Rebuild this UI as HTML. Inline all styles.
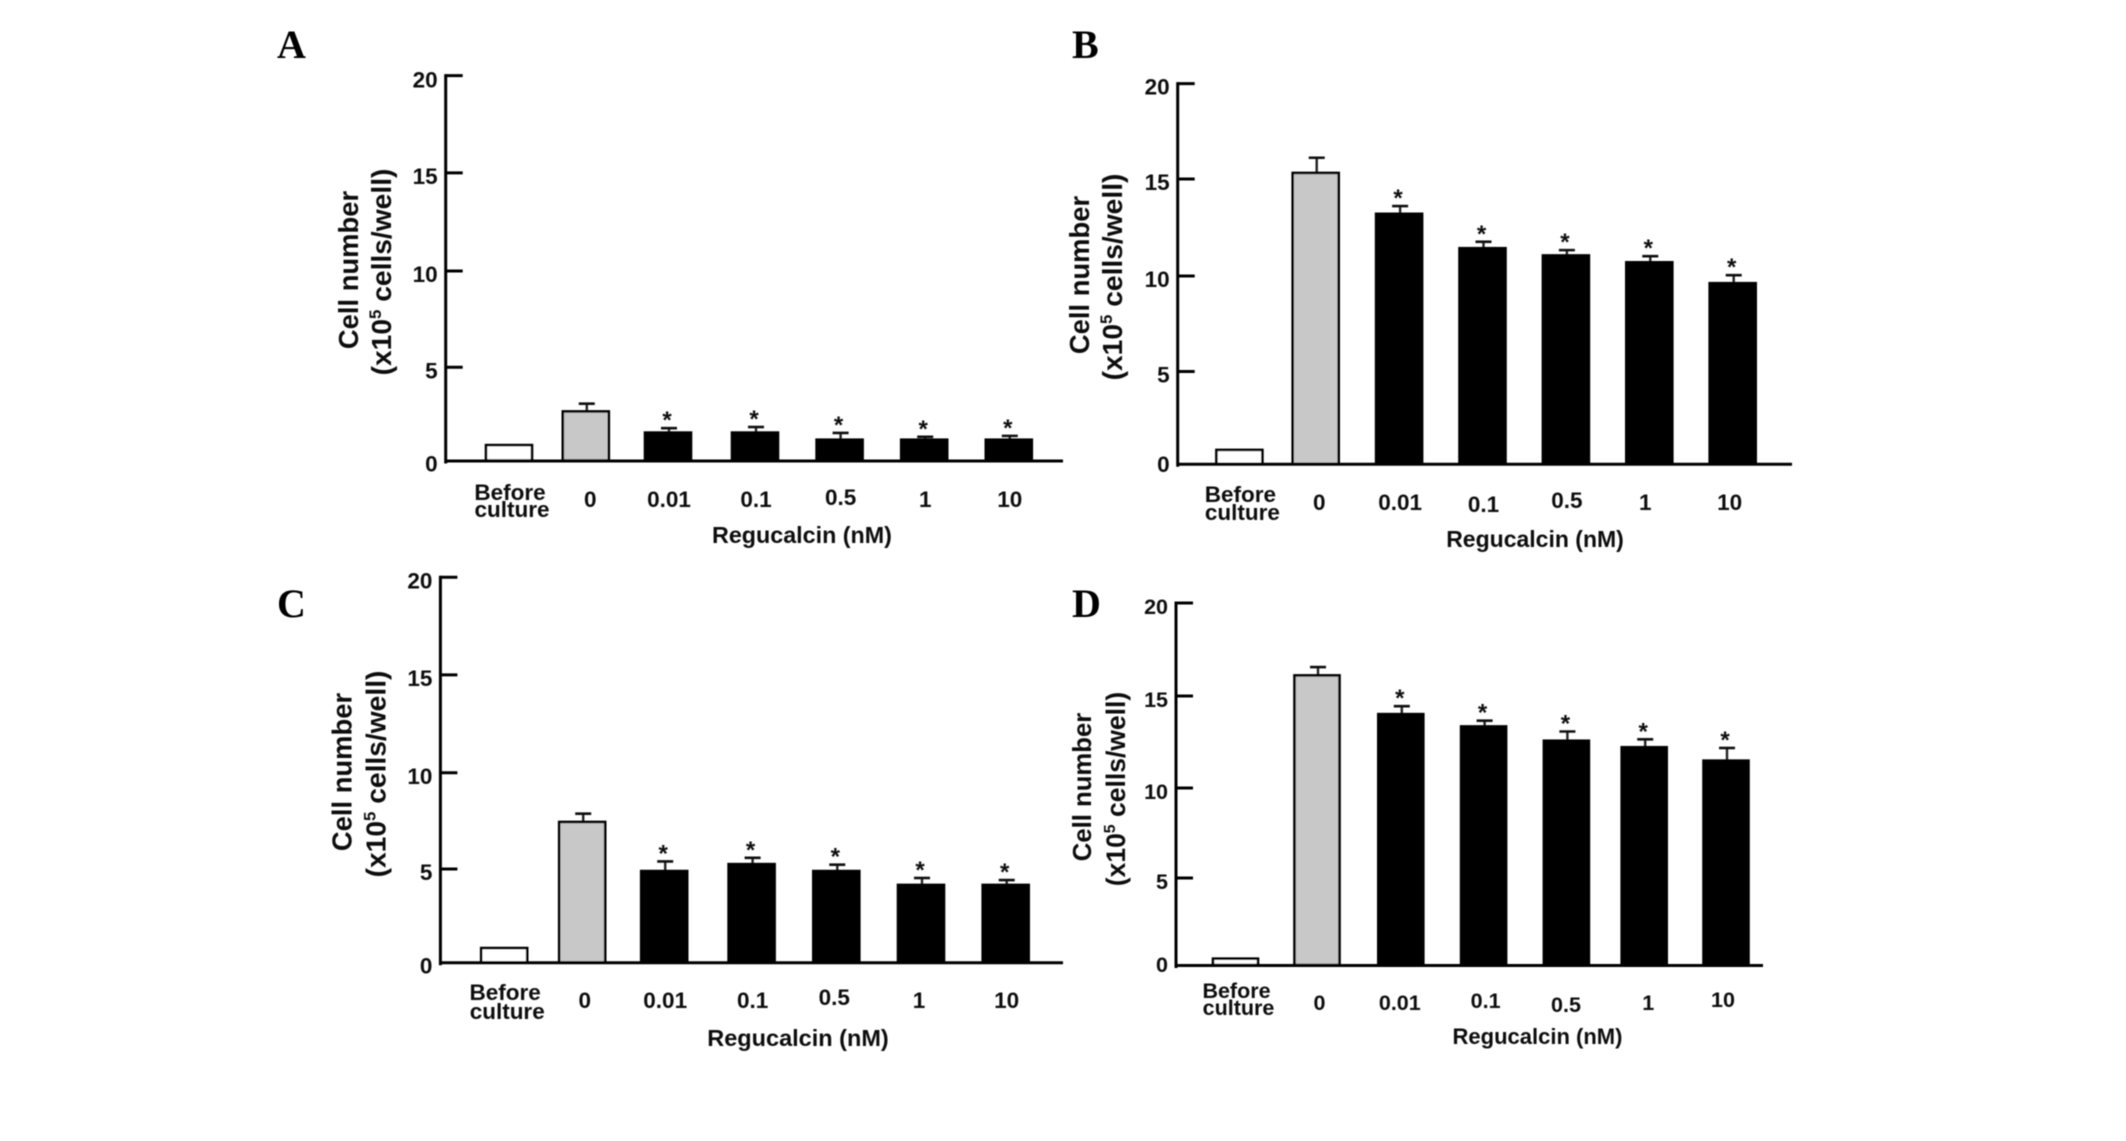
<!DOCTYPE html>
<html lang="en">
<head>
<meta charset="utf-8">
<title>Cell number by Regucalcin concentration</title>
<style>
html,body{margin:0;padding:0;background:#fff;width:2126px;height:1141px;overflow:hidden}
svg{display:block}
text{font-family:"Liberation Sans",Arial,sans-serif;fill:#111}
.letter{font-family:"Liberation Serif","Times New Roman",serif;font-weight:bold;font-size:40px;fill:#000}
</style>
</head>
<body>
<svg id="figure" xmlns="http://www.w3.org/2000/svg" width="2126" height="1141" viewBox="0 0 2126 1141">
  <defs>
    <filter id="soft" filterUnits="userSpaceOnUse" x="0" y="0" width="2126" height="1141">
      <feGaussianBlur stdDeviation="0.6"/>
    </filter>
  </defs>
  <rect x="0" y="0" width="2126" height="1141" fill="#fff"/>
  <g id="root" filter="url(#soft)"></g>
</svg>
<script>
const categories = ['Before culture', '0', '0.01', '0.1', '0.5', '1', '10'];
const tickValues = [0, 5, 10, 15, 20];
const significant = [false, false, true, true, true, true, true];

const valuesA = [0.8, 2.55, 1.45, 1.45, 1.08, 1.08, 1.08];
const errorsA = [0, 0.4, 0.23, 0.29, 0.35, 0.15, 0.2];

const valuesB = [0.73, 15.3, 13.15, 11.34, 10.96, 10.6, 9.5];
const errorsB = [0, 0.8, 0.41, 0.34, 0.28, 0.32, 0.42];

const valuesC = [0.74, 7.29, 4.74, 5.1, 4.74, 4.02, 4.02];
const errorsC = [0, 0.43, 0.5, 0.33, 0.33, 0.36, 0.25];

const valuesD = [0.35, 16.0, 13.86, 13.18, 12.39, 12.03, 11.29];
const errorsD = [0, 0.46, 0.44, 0.32, 0.51, 0.44, 0.7];

const panels = [
  {key:'a', letter:'A', values:valuesA, errors:errorsA, letterX:277, letterY:58,
   axisX:445.7, y0:460.5, y20:75.6, axisEnd:1063, firstX:509, secondX:585.8, step:84.6, barW:46,
   barNudge:[0,0,-2.4,0,0,0,0], labelShift:[0,3.5,0,0,0,0,0], tickNudge:[0,3,3,1,0], tickLabelNudge:[0,0,0,0,1],
   labelFont:22.5, labelBase:507, beforeBase:500, cultureBase:517, labelNudge:[0,0,0,0,-2,0,0],
   xTitleX:802, xTitleY:543, xTitleFont:23.3, titleFont:28.2, title1X:358, title2X:391, titleY:271},
  {key:'b', letter:'B', values:valuesB, errors:errorsB, letterX:1072, letterY:58,
   axisX:1177.7, y0:463.8, y20:83.6, axisEnd:1792, firstX:1239.4, secondX:1315.7, step:83.4, barW:46,
   barNudge:[0,0,0,0,0,0,0], labelShift:[0,2.5,0,0,0,-5,-4], tickNudge:[0,2.7,2.3,0.4,0], tickLabelNudge:[-3,0,0,0,0],
   labelFont:22.5, labelBase:510, beforeBase:502, cultureBase:520, labelNudge:[0,0,0,2,-2,0,0],
   xTitleX:1535, xTitleY:547, xTitleFont:23, titleFont:28.2, title1X:1089, title2X:1122, titleY:276},
  {key:'c', letter:'C', values:valuesC, errors:errorsC, letterX:277, letterY:617,
   axisX:440.4, y0:962.3, y20:577.3, axisEnd:1063, firstX:504.2, secondX:582.2, step:84.7, barW:46,
   barNudge:[0,0,-2.7,0,0,0,0], labelShift:[0,1.5,0,0,-3,-3,0], tickNudge:[0,3,3,1.3,0], tickLabelNudge:[0,0,0,0,0],
   labelFont:22.5, labelBase:1008, beforeBase:1000, cultureBase:1019, labelNudge:[0,0,0,0,-3,0,0],
   xTitleX:798, xTitleY:1046, xTitleFont:23.5, titleFont:28.2, title1X:351.5, title2X:385.5, titleY:773},
  {key:'d', letter:'D', values:valuesD, errors:errorsD, letterX:1072, letterY:617,
   axisX:1176, y0:965, y20:603, axisEnd:1763, firstX:1235.5, secondX:1317, step:81.8, barW:45,
   barNudge:[0,0,2,3,4,0,0], labelShift:[0,1.5,-2,1,-1.4,3,-4], tickNudge:[0,3.5,4,2.5,0], tickLabelNudge:[-4,0,0,0,0],
   labelFont:21.5, labelBase:1010, beforeBase:998, cultureBase:1015, labelNudge:[0,0,0,-2,2,0,-3],
   xTitleX:1537.5, xTitleY:1044, xTitleFont:22, titleFont:26.5, title1X:1091, title2X:1125, titleY:788}
];

const NS = 'http://www.w3.org/2000/svg';
const root = document.getElementById('root');

function make(tag, parent, attrs) {
  const el = document.createElementNS(NS, tag);
  for (const k in attrs) el.setAttribute(k, attrs[k]);
  parent.appendChild(el);
  return el;
}
function yScale(p, v) { return p.y0 - v * (p.y0 - p.y20) / 20; }
function xScale(p, i) { return (i === 0 ? p.firstX : p.secondX + p.step * (i - 1)) + p.barNudge[i]; }
function barFill(i) { return i === 0 ? '#ffffff' : (i === 1 ? '#c8c8c8' : '#000000'); }

panels.forEach(function (p) {
  const g = make('g', root, {});
  
  

  const letter = make('text', g, {x:p.letterX, y:p.letterY, class:'letter'});
  letter.textContent = p.letter;
  
  

  p.values.forEach(function (v, i) {
    const cx = xScale(p, i);
    const top = yScale(p, v);

    if (p.errors[i] > 0) {
      const errTop = yScale(p, v + p.errors[i]);
      const stem = make('line', g, {x1:cx + 1, x2:cx + 1, y1:errTop, y2:top, stroke:'#222', 'stroke-width':2.4});
      
      
      const cap = make('line', g, {x1:cx - 7, x2:cx + 9, y1:errTop, y2:errTop, stroke:'#111', 'stroke-width':2.6});
      
      
      if (significant[i]) {
        const star = make('text', g, {x:cx - 1, y:errTop, 'text-anchor':'middle', 'font-size':24, 'font-weight':'bold'});
        star.textContent = '*';
        
        
      }
    }

    const bar = make('rect', g, {x:cx - p.barW / 2, y:top, width:p.barW, height:p.y0 - top, fill:barFill(i), stroke:'#000', 'stroke-width':2.6});
    
    

    const dy = p.labelNudge[i];
    const lx = cx + 1 + p.labelShift[i];
    if (i === 0) {
      const parts = categories[0].split(' ');
      const l1 = make('text', g, {x:lx, y:p.beforeBase, 'text-anchor':'middle', 'font-size':p.labelFont, 'font-weight':'bold'});
      l1.textContent = parts[0];
      
      
      const l2 = make('text', g, {x:lx + 2, y:p.cultureBase, 'text-anchor':'middle', 'font-size':p.labelFont, 'font-weight':'bold'});
      l2.textContent = parts[1];
      
      
    } else {
      const lab = make('text', g, {x:lx, y:p.labelBase + dy, 'text-anchor':'middle', 'font-size':p.labelFont, 'font-weight':'bold'});
      lab.textContent = categories[i];
      
      
    }
  });

  const yAxis = make('line', g, {x1:p.axisX, x2:p.axisX, y1:p.y20 - 1.5, y2:p.y0 + 3, stroke:'#000', 'stroke-width':3});
  
  
  const xAxis = make('line', g, {x1:p.axisX - 1, x2:p.axisEnd, y1:p.y0 + 0.5, y2:p.y0 + 0.5, stroke:'#000', 'stroke-width':3});
  
  

  tickValues.forEach(function (t, k) {
    const ty = yScale(p, t) + p.tickNudge[k];
    if (t > 0) {
      const tick = make('line', g, {x1:p.axisX, x2:p.axisX + 17, y1:ty, y2:ty, stroke:'#000', 'stroke-width':3});
      
      
    }
    const tl = make('text', g, {x:p.axisX - 8, y:ty + 11 + p.tickLabelNudge[k], 'text-anchor':'end', 'font-size':p.labelFont, 'font-weight':'bold'});
    tl.textContent = String(t);
    
    
  });

  const xTitle = make('text', g, {x:p.xTitleX, y:p.xTitleY, 'text-anchor':'middle', 'font-size':p.xTitleFont, 'font-weight':'bold'});
  xTitle.textContent = 'Regucalcin (nM)';
  
  

  const t1 = make('text', g, {transform:'translate(' + p.title1X + ',' + (p.titleY - 1) + ') rotate(-90)', 'text-anchor':'middle', 'font-size':p.titleFont - 0.8, 'font-weight':'bold'});
  t1.textContent = 'Cell number';
  
  

  const t2 = make('text', g, {transform:'translate(' + p.title2X + ',' + (p.titleY + 1) + ') rotate(-90)', 'text-anchor':'middle', 'font-size':p.titleFont, 'font-weight':'bold'});
  
  
  const s1 = make('tspan', t2, {});
  s1.textContent = '(x10';
  const s2 = make('tspan', t2, {dy:-10, 'font-size':p.titleFont * 0.6});
  s2.textContent = '5';
  const s3 = make('tspan', t2, {dy:10});
  s3.textContent = ' cells/well)';
});
</script>
</body>
</html>
